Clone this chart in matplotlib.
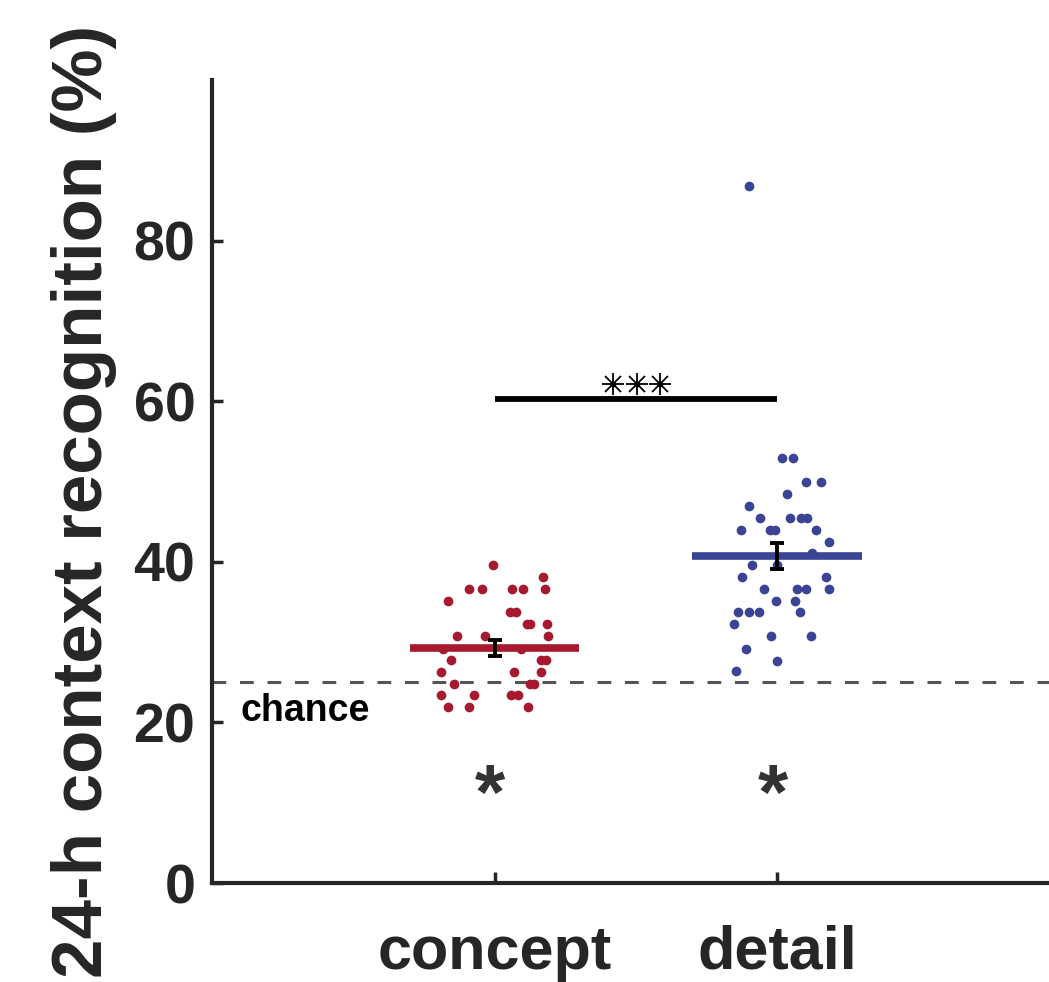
import numpy as np
import matplotlib
matplotlib.use('Agg')
from matplotlib import pyplot as plt

plt.rcParams['font.family'] = ['Liberation Sans', 'DejaVu Sans']
plt.rcParams['font.weight'] = 'bold'

groups = ['concept', 'detail']
chance = 25

# concept: jitter offset, score
concept_dx = [-0.006, 0.173, -0.092, -0.045, 0.061, 0.102, 0.178, -0.164, 0.053, 0.077,
              0.116, 0.126, 0.184, -0.133, -0.034, 0.189, -0.183, 0.095, -0.153, 0.165,
              0.183, -0.189, 0.070, 0.164, -0.142, 0.126, 0.138, -0.189, -0.074, 0.059,
              0.082, -0.163, -0.092, 0.120]
concept_y = [39.6, 38.1, 36.6, 36.6, 36.6, 36.6, 36.6, 35.1, 33.7, 33.7,
             32.2, 32.2, 32.2, 30.7, 30.7, 30.7, 29.2, 29.2, 27.8, 27.8,
             27.8, 26.3, 26.3, 26.3, 24.8, 24.8, 24.8, 23.4, 23.4, 23.4,
             23.4, 21.9, 21.9, 21.9]

# detail: jitter offset, score
detail_dx = [0.019, 0.058, 0.102, 0.157, 0.034, -0.099, -0.061, 0.046, 0.084, 0.107,
             -0.126, -0.025, -0.007, 0.137, 0.184, 0.125, -0.090, 0.001, -0.123, 0.172,
             -0.047, 0.070, 0.102, 0.185, -0.005, 0.063, -0.139, -0.101, -0.064, 0.080,
             -0.152, -0.022, 0.119, -0.111, -0.001, -0.144, -0.099]
detail_y = [52.9, 52.9, 49.9, 49.9, 48.4, 47.0, 45.5, 45.5, 45.5, 45.5,
            44.0, 44.0, 44.0, 44.0, 42.5, 41.1, 39.6, 39.6, 38.1, 38.1,
            36.6, 36.6, 36.6, 36.6, 35.1, 35.1, 33.7, 33.7, 33.7, 33.7,
            32.2, 30.7, 30.7, 29.2, 27.7, 26.4, 86.8]

means = [29.3, 40.7]
sems = [1.0, 1.65]

colors = ['#A6192E', '#3B4494']
dark = '#262626'

fig = plt.figure(figsize=(10.49, 9.82), dpi=100)
ax = fig.add_axes([0.2021, 0.1008, 0.808, 0.8177])

xs = [1, 2]
ax.plot(xs[0] + np.array(concept_dx), concept_y, 'o', ms=7, color=colors[0], mec='none', zorder=2)
ax.plot(xs[1] + np.array(detail_dx), detail_y, 'o', ms=7, color=colors[1], mec='none', zorder=2)

for i in range(2):
    ax.plot([xs[i] - 0.3, xs[i] + 0.3], [means[i], means[i]], color=colors[i], lw=5.5,
            solid_capstyle='butt', zorder=3)
    ax.errorbar(xs[i], means[i], yerr=sems[i], color='black', lw=2.8, capsize=5,
                capthick=2.8, zorder=4)

# chance level
ax.axhline(chance, color='#555555', lw=2.2, dashes=(4.5, 4.5), zorder=1)
ax.text(0.1, 20.2, 'chance', fontsize=27, fontweight='bold', color='black', va='baseline')

# significance between groups
ax.plot([1, 2], [60.3, 60.3], color='black', lw=4.2, solid_capstyle='butt')
star_x = [1.42, 1.505, 1.585]
ax.plot(star_x, [62.2] * 3, '+', color='black', ms=16, mew=1.3)
ax.plot(star_x, [62.2] * 3, 'x', color='black', ms=11, mew=1.3)
ax.plot(star_x, [62.2] * 3, 'o', color='black', ms=3)

# vs chance
for i in range(2):
    ax.text(xs[i] - 0.015, 10.5, '*', fontsize=56, fontweight='bold', color='#333333',
            ha='center', va='center')

ax.set_xlim(0, 3)
ax.set_ylim(0, 100)
ax.set_xticks(xs)
ax.set_xticklabels(groups)
ax.set_yticks([0, 20, 40, 60, 80])

for s in ['top', 'right']:
    ax.spines[s].set_visible(False)
for s in ['left', 'bottom']:
    ax.spines[s].set_linewidth(3)
    ax.spines[s].set_color(dark)

ax.tick_params(direction='in', length=8, width=2.5, color=dark, labelcolor=dark)
ax.tick_params(axis='y', labelsize=40, pad=12)
ax.tick_params(axis='x', labelsize=44, pad=30)
ax.set_ylabel('24-h context recognition (%)', fontsize=51, fontweight='bold', color=dark)
ax.yaxis.set_label_coords(-0.112, 0.475)

plt.savefig('out.png', dpi=100)
